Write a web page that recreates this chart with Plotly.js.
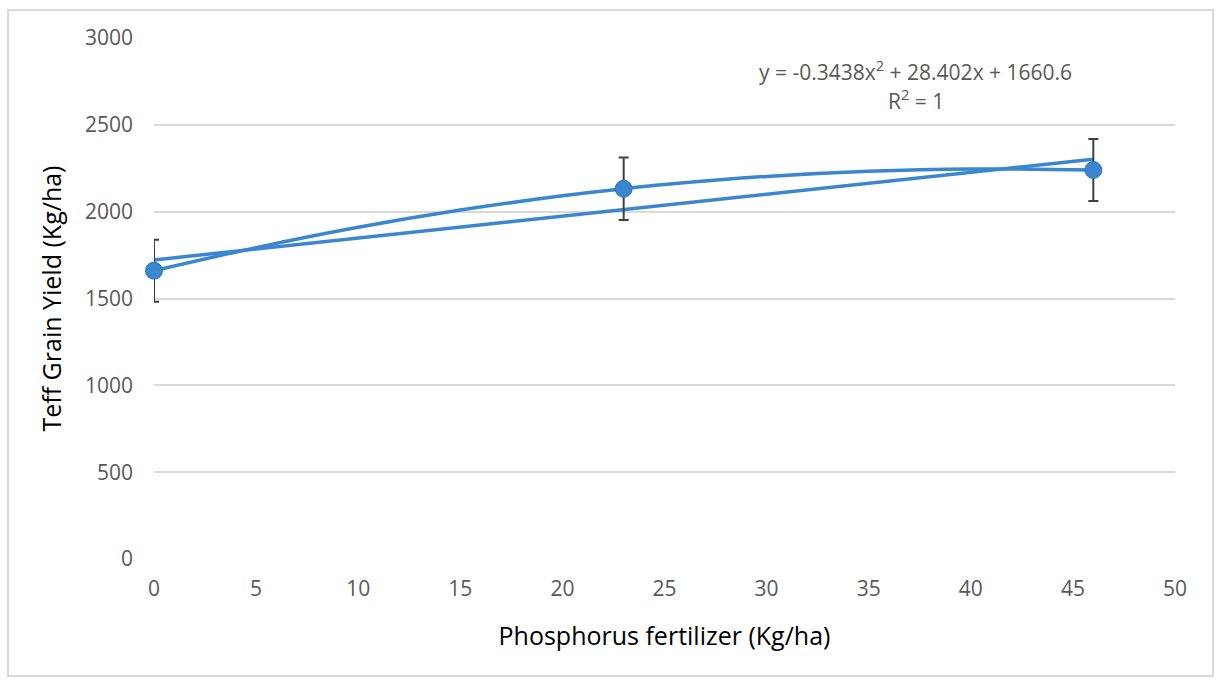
<!DOCTYPE html>
<html>
<head>
<meta charset="utf-8">
<script src="https://cdn.plot.ly/plotly-3.0.1.min.js"></script>
<style>html,body{margin:0;padding:0;background:#fff;}#chart{width:1218px;height:683px;}</style>
</head>
<body>
<div id="chart"></div>
<script>
const phosphorus = [0, 23, 46];
const grainYield = [1660, 2132, 2240];
const yieldError = [178, 180, 178];

// Polynomial trendline as drawn
const polyX = [0, 5, 10, 15, 20, 23, 25, 30, 35, 40, 46];
const polyY = [1660, 1793, 1910, 2009, 2091, 2132, 2156, 2203, 2233, 2246, 2240];

// Straight line as drawn (end points)
const linX = [0, 46];
const linY = [1722, 2302];

const xTicks = [0, 5, 10, 15, 20, 25, 30, 35, 40, 45, 50];
const yTicks = [0, 500, 1000, 1500, 2000, 2500, 3000];

const equationText = 'y = -0.3438x<sup>2</sup> + 28.402x + 1660.6';
const r2Text = 'R<sup>2</sup> = 1';

const blue = '#3a86cf';
const grey = '#595959';
const font = 'Open Sans, Noto Sans, sans-serif';

const traces = [
  {x: polyX, y: polyY, type: 'scatter', mode: 'lines', line: {color: blue, width: 3.5, shape: 'spline', smoothing: 1}, hoverinfo: 'skip', showlegend: false, cliponaxis: true},
  {x: linX, y: linY, type: 'scatter', mode: 'lines', line: {color: blue, width: 3.5}, hoverinfo: 'skip', showlegend: false, cliponaxis: true},
  {x: phosphorus, y: grainYield, type: 'scatter', mode: 'markers', marker: {size: 0.1, color: 'rgba(0,0,0,0)'},
   error_y: {type: 'data', array: yieldError, visible: true, color: '#404040', thickness: 2, width: 5}, showlegend: false, cliponaxis: true},
  {x: phosphorus, y: grainYield, type: 'scatter', mode: 'markers', marker: {size: 17, color: blue, line: {color: '#2f74b5', width: 1}}, showlegend: false, cliponaxis: false}
];

const layout = {
  width: 1218, height: 683,
  margin: {l: 154, r: 43, t: 38, b: 124},
  paper_bgcolor: '#ffffff', plot_bgcolor: '#ffffff',
  font: {family: font, color: grey, size: 21},
  showlegend: false,
  xaxis: {
    range: [0, 50], tickvals: xTicks, ticktext: xTicks.map(String),
    showgrid: false, zeroline: false, showline: false, ticks: '',
    ticklabelstandoff: 15,
    tickfont: {family: font, size: 21, color: grey},
    title: {text: 'Phosphorus fertilizer (Kg/ha)', font: {family: font, size: 25, color: '#000000'}, standoff: 26}
  },
  yaxis: {
    range: [0, 3000], tickvals: yTicks, ticktext: yTicks.map(String),
    showgrid: true, gridcolor: '#d9d9d9', gridwidth: 2, zeroline: false, showline: false, ticks: '',
    ticklabelstandoff: 20,
    tickfont: {family: font, size: 21, color: grey},
    title: {text: 'Teff Grain Yield (Kg/ha)', font: {family: font, size: 25, color: '#000000'}, standoff: 16}
  },
  annotations: [
    {xref: 'x', yref: 'y', x: 37.3, y: 2815, text: equationText, showarrow: false, font: {family: font, size: 21, color: grey}, xanchor: 'center', yanchor: 'middle'},
    {xref: 'x', yref: 'y', x: 37.3, y: 2645, text: r2Text, showarrow: false, font: {family: font, size: 21, color: grey}, xanchor: 'center', yanchor: 'middle'}
  ],
  shapes: [
    {type: 'rect', xref: 'paper', yref: 'paper', x0: -0.143, x1: 1.0372, y0: -0.2246, y1: 1.0537, line: {color: '#d9d9d9', width: 2}, fillcolor: 'rgba(0,0,0,0)', layer: 'below'}
  ]
};

Plotly.newPlot('chart', traces, layout, {displayModeBar: false, staticPlot: true});
</script>
</body>
</html>
